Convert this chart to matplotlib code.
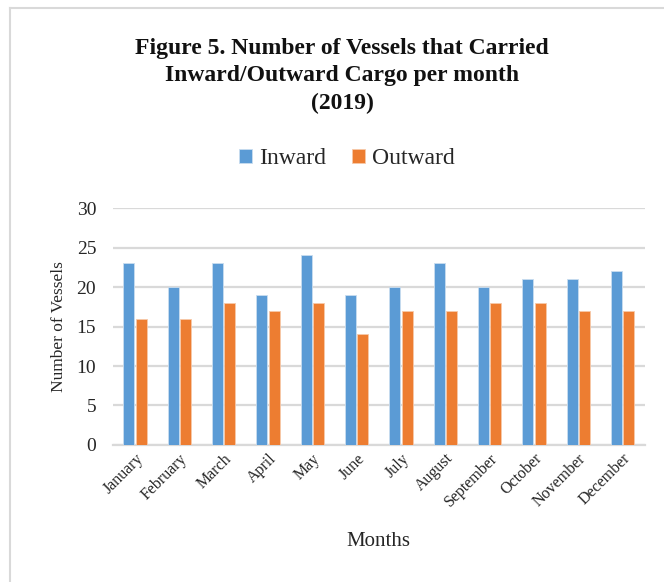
import numpy as np
import matplotlib
matplotlib.use("Agg")
import matplotlib.pyplot as plt
from matplotlib.lines import Line2D

plt.rcParams['font.family'] = ['Liberation Serif', 'DejaVu Serif']

months = ["January", "February", "March", "April", "May", "June", "July",
          "August", "September", "October", "November", "December"]
inward = [23, 20, 23, 19, 24, 19, 20, 23, 20, 21, 21, 22]
outward = [16, 16, 18, 17, 18, 14, 17, 17, 18, 18, 17, 17]

fig = plt.figure(figsize=(6.64, 5.82), dpi=100)
ax = fig.add_axes([0.170, 0.2354, 0.801, 0.4072])

x = np.arange(len(months))
w = 0.25
ax.bar(x - 0.14, inward, w, color="#5B9BD5", edgecolor="#c9ddf0", linewidth=0.6,
       label="Inward", zorder=3)
ax.bar(x + 0.14, outward, w, color="#ED7D31", edgecolor="#f7c9aa", linewidth=0.6,
       label="Outward", zorder=3)

ax.set_xlim(-0.5, len(months) - 0.5)
ax.set_ylim(0, 30)
ax.set_yticks(range(0, 31, 5))
ax.yaxis.grid(True, color="#d9d9d9", linewidth=1.6, zorder=0)
for s in ["top", "right", "left"]:
    ax.spines[s].set_visible(False)
ax.spines["bottom"].set_color("#d9d9d9")
ax.spines["bottom"].set_linewidth(1.6)
ax.tick_params(axis="y", length=0, pad=12, labelsize=14, labelcolor="#262626")
ax.tick_params(axis="x", length=0, pad=4, labelsize=11.5, labelcolor="#262626")
ax.set_xticks(x)
ax.set_xticklabels(months, rotation=45, ha="right", rotation_mode="anchor")

ax.set_ylabel("Number of Vessels", fontsize=12.5, color="#262626", labelpad=7)
ax.set_xlabel("Months", fontsize=15, color="#262626", labelpad=16)

fig.text(0.515, 0.870, "Figure 5. Number of Vessels that Carried\nInward/Outward Cargo per month\n(2019)",
         ha="center", va="center", fontsize=17, fontweight="bold",
         linespacing=1.4, color="#111111")

fig.legend(loc="center", bbox_to_anchor=(0.523, 0.727), ncol=2, frameon=False,
           fontsize=17, handlelength=0.55, handleheight=0.55, handletextpad=0.3,
           columnspacing=1.1, labelcolor="#262626")

# outer chart border (top and left edges visible)
fig.add_artist(Line2D([10 / 664, 10 / 664], [0, 1 - 8 / 582], color="#d9d9d9", linewidth=1.5))
fig.add_artist(Line2D([10 / 664, 1], [1 - 8 / 582, 1 - 8 / 582], color="#d9d9d9", linewidth=1.5))

fig.savefig("out.png", dpi=100)
